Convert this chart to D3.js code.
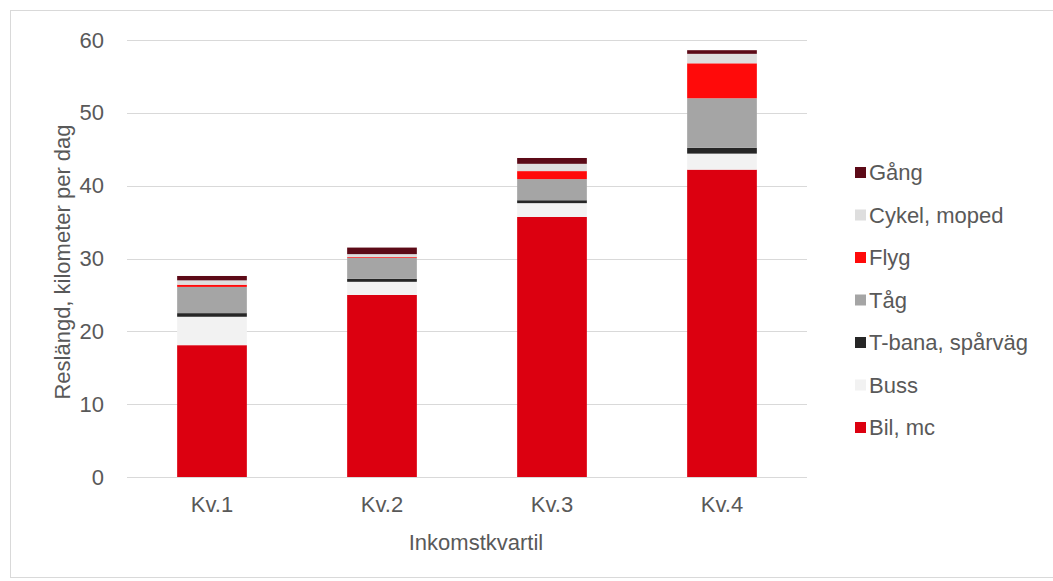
<!DOCTYPE html>
<html>
<head>
<meta charset="utf-8">
<script src="https://cdn.jsdelivr.net/npm/d3@7"></script>
<style>
  body { margin: 0; background: #fff; }
  text { font-family: "Liberation Sans", Arial, sans-serif; fill: #595959; }
</style>
</head>
<body>
<div id="container"></div>
<script>
var categories = ["Kv.1", "Kv.2", "Kv.3", "Kv.4"];

// series, bottom to top in the stack
var seriesNames = ["Bil, mc", "Buss", "T-bana, spårväg", "Tåg", "Flyg", "Cykel, moped", "Gång"];
var bil    = [18.1, 25.0, 35.7, 42.2];
var buss   = [3.9, 1.8, 1.9, 2.2];
var tbana  = [0.5, 0.4, 0.4, 0.8];
var tag    = [3.6, 2.9, 2.9, 6.8];
var flyg   = [0.3, 0.1, 1.1, 4.8];
var cykel  = [0.6, 0.4, 1.0, 1.3];
var gang   = [0.6, 0.9, 0.8, 0.5];
var yTicks = [0, 10, 20, 30, 40, 50, 60];

var colors = ["#dc0010", "#f2f2f2", "#262626", "#a5a5a5", "#ff0a0a", "#dedede", "#5c0a17"];

var width = 1053,
    height = 581,
    fontSize = "22px";

var rows = categories.map(function (c, i) {
    return {
        cat: c,
        "Bil, mc": bil[i], "Buss": buss[i], "T-bana, spårväg": tbana[i], "Tåg": tag[i],
        "Flyg": flyg[i], "Cykel, moped": cykel[i], "Gång": gang[i]
    };
});

var stack = d3.stack().keys(seriesNames)(rows);

var svg = d3.select("div#container").append("svg")
    .attr("width", width)
    .attr("height", height);

// outer frame
svg.append("rect")
    .attr("x", 10.5).attr("y", 10.5)
    .attr("width", 1050).attr("height", 567)
    .attr("fill", "none")
    .attr("stroke", "#d9d9d9");

var x = d3.scaleBand().domain(categories).range([127, 807]).paddingInner(0.59).paddingOuter(0.295);
var y = d3.scaleLinear().domain([0, 60]).range([477, 40]);

// gridlines
svg.append("g").selectAll("line")
    .data(yTicks)
    .enter().append("line")
    .attr("x1", 127).attr("x2", 807)
    .attr("y1", function (d) { return Math.round(y(d)) + 0.5; })
    .attr("y2", function (d) { return Math.round(y(d)) + 0.5; })
    .attr("stroke", "#d9d9d9")
    .attr("stroke-width", 1);

// y axis labels
var yAxis = d3.axisLeft(y).tickValues(yTicks).tickSize(0).tickPadding(0);
var ya = svg.append("g").attr("transform", "translate(104,0)").call(yAxis);
ya.select(".domain").remove();
ya.selectAll("text").style("font-size", fontSize).attr("fill", "#595959")
    .style("font-family", "Liberation Sans, Arial, sans-serif");

// bars
svg.append("g").selectAll("g")
    .data(stack)
    .enter().append("g")
    .attr("fill", function (d, i) { return colors[i]; })
    .selectAll("rect")
    .data(function (d) { return d; })
    .enter().append("rect")
    .attr("x", function (d) { return x(d.data.cat); })
    .attr("y", function (d) { return y(d[1]); })
    .attr("width", x.bandwidth())
    .attr("height", function (d) { return y(d[0]) - y(d[1]); });

// x axis labels
var xAxis = d3.axisBottom(x).tickSize(0).tickPadding(0);
var xa = svg.append("g").attr("transform", "translate(0,496)").call(xAxis);
xa.select(".domain").remove();
xa.selectAll("text").style("font-size", fontSize).attr("fill", "#595959")
    .style("font-family", "Liberation Sans, Arial, sans-serif");

// axis titles
svg.append("text")
    .attr("x", 476).attr("y", 550)
    .attr("text-anchor", "middle")
    .style("font-size", fontSize)
    .text("Inkomstkvartil");

svg.append("text")
    .attr("transform", "translate(70,262) rotate(-90)")
    .attr("text-anchor", "middle")
    .style("font-size", fontSize)
    .text("Reslängd, kilometer per dag");

// legend (reversed order)
var legendItems = seriesNames.map(function (n, i) { return { name: n, color: colors[i] }; }).reverse();
var leg = svg.append("g").selectAll("g")
    .data(legendItems)
    .enter().append("g")
    .attr("transform", function (d, i) { return "translate(855," + (172 + i * 42.5) + ")"; });

leg.append("rect")
    .attr("x", 0).attr("y", -5)
    .attr("width", 11).attr("height", 11)
    .attr("fill", function (d) { return d.color; });

leg.append("text")
    .attr("x", 14).attr("y", 8)
    .style("font-size", fontSize)
    .text(function (d) { return d.name; });
</script>
</body>
</html>
